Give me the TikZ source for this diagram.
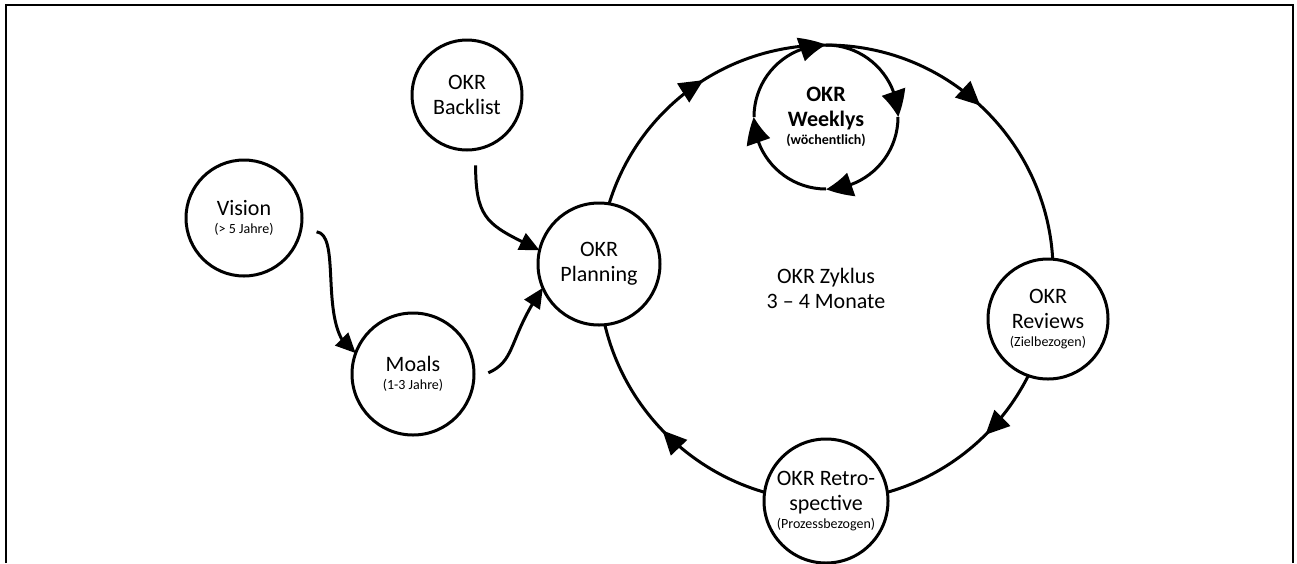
\documentclass[tikz,border=0pt]{standalone}
\usepackage{fontspec}
\setmainfont{Carlito}
\usetikzlibrary{arrows.meta,bending,decorations.markings,backgrounds}
\newcommand{\sml}{\fontsize{7}{8}\selectfont}

\begin{document}
\begin{tikzpicture}[x=0.5pt,y=0.5pt,
  every node/.style={circle,align=center,inner sep=0pt,outer sep=0pt,font=\fontsize{11}{12.5}\selectfont},
  okr/.style={draw,line width=1.5pt,fill=white},
  flow/.style={line width=1.5pt,shorten <=8pt,-{Triangle[length=10pt,width=9pt]}},
  cyc/.style={line width=1.5pt,decoration={markings,mark=at position #1 with {\arrow{Triangle[length=12pt,width=11pt]}}},postaction={decorate}},
  wkarc/.style={line width=1.5pt,-{Triangle[bend,length=13pt,width=12pt]}}]

\useasboundingbox (0,0) rectangle (1297,-563);

\draw[line width=1pt] (6,-563) -- (6,-5) -- (1293,-5) -- (1293,-563);

\node[okr,minimum size=58pt] (vis) at (244,-218) {Vision\\[-3.5pt]{\sml (> 5 Jahre)}};

\node[okr,minimum size=61pt] (moa) at (413,-374) {Moals\\[-3.5pt]{\sml (1-3 Jahre)}};

\node[okr,minimum size=55pt] (bl) at (467,-95) {OKR\\Backlist};

\node[okr,minimum size=61pt] (pl) at (599,-264) {OKR\\Planning};

\node[minimum size=72pt,font=\fontsize{11}{12.5}\selectfont\bfseries] (wk) at (826,-117) {OKR\\Weeklys\\[-3.5pt]{\sml (wöchentlich)}};

\node[okr,minimum size=60pt] (rev) at (1048,-319) {OKR\\Reviews\\[-3.5pt]{\sml (Zielbezogen)}};

\node[okr,minimum size=62pt] (ret) at (826,-501) {OKR Retro-\\spective\\[-3.5pt]{\sml (Prozessbezogen)}};

\node (zyk) at (826,-288) {OKR Zyklus\\3 – 4 Monate};

% Zyklus
\begin{scope}[on background layer]
\draw[cyc=0.63] (pl.center) to[bend left=44] (wk.north);
\draw[cyc=0.42] (wk.north) to[bend left=51,looseness=1.045] (rev.center);
\draw[cyc=0.43] (rev.center) to[bend left=39,looseness=0.96] (ret.center);
\draw[cyc=0.5] (ret.center) to[bend left=46] (pl.center);
\end{scope}

% Weeklys
\draw[wkarc] (wk.west) arc[start angle=180,end angle=90,radius=36pt];
\draw[wkarc] (wk.north) arc[start angle=90,end angle=0,radius=36pt];
\draw[wkarc] (wk.east) arc[start angle=0,end angle=-90,radius=36pt];
\draw[wkarc] (wk.south) arc[start angle=-90,end angle=-180,radius=36pt];

\draw[flow] (vis.-12) .. controls +(45,-5) and +(-40,20) .. (moa.160);
\draw[flow] (bl.-81) .. controls +(0,-75) and +(-50,25) .. (pl.167);
\draw[flow] (moa.-5) .. controls +(45,20) and +(-35,-50) .. (pl.203);
\end{tikzpicture}
\end{document}
